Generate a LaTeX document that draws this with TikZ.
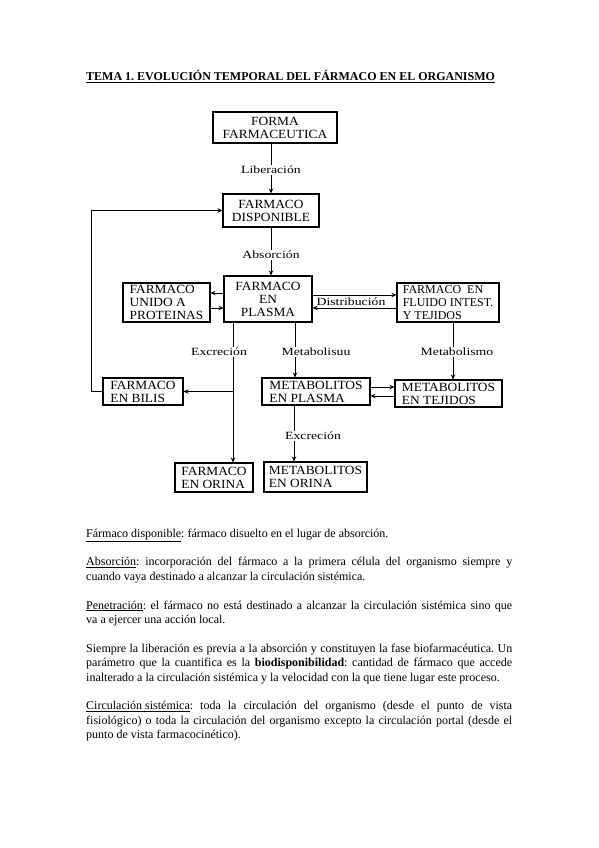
\documentclass[tikz,border=0pt]{standalone}
\usepackage{fontspec}
\setmainfont{Liberation Serif}
\newfontfamily\anchafont[FakeStretch=1.25]{Liberation Serif}
\newfontfamily\cajafont[FakeStretch=1.07]{Liberation Serif}
\usepackage{tikz}
\usetikzlibrary{arrows.meta, positioning}
\frenchspacing

\begin{document}
\begin{tikzpicture}[x=1pt, y=-1pt,
    caja/.style={draw, line width=1.1pt, inner sep=0pt, font=\cajafont\fontsize{12.5}{13}\selectfont},
    cajac/.style={caja, align=center},
    cajal/.style={caja, align=left},
    flecha/.style={line width=0.9pt, -{Stealth[length=5pt, width=4.5pt]}},
    etiq/.style={inner sep=1pt, font=\anchafont\fontsize{11}{12}\selectfont},
    etiqb/.style={etiq, fill=white}]
        \useasboundingbox (0,0) rectangle (599,848);

        \node[anchor=base west, inner sep=0pt, font=\bfseries\fontsize{12}{14}\selectfont] (titulo) at (86,81)
            {\underline{TEMA 1. EVOLUCIÓN TEMPORAL DEL FÁRMACO EN EL ORGANISMO}};

        % cajas
        \node[cajac, minimum width=124, minimum height=31] (forma) at (275,127.5) {FORMA\\FARMACEUTICA};
        \node[cajac, minimum width=96, minimum height=33] (disp) at (271,210.5) {FARMACO\\DISPONIBLE};
        \node[cajal, minimum width=87, minimum height=39] (prot) at (166.5,302.5) {FARMACO\\UNIDO A\\PROTEINAS};
        \node[cajac, minimum width=88, minimum height=46] (plasma) at (268,299) {FARMACO\\EN\\PLASMA};
        \node[cajal, minimum width=102, minimum height=39, font=\fontsize{12}{13}\selectfont] (fluido) at (448,302.5)
            {FARMACO\ \ EN\\FLUIDO INTEST.\\Y TEJIDOS};
        \node[cajal, minimum width=80, minimum height=27] (bilis) at (143,391.5) {FARMACO\\EN BILIS};
        \node[cajal, minimum width=108, minimum height=27] (metpl) at (316,391.5) {METABOLITOS\\EN PLASMA};
        \node[cajal, minimum width=107, minimum height=27] (mettej) at (448.5,393.5) {METABOLITOS\\EN TEJIDOS};
        \node[cajal, minimum width=78, minimum height=29] (orina) at (214,477.5) {FARMACO\\EN ORINA};
        \node[cajal, minimum width=103, minimum height=30] (metor) at (315.5,477) {METABOLITOS\\EN ORINA};

        % flechas
        \draw[flecha] (disp.north |- forma.south) -- (disp.north);
        \node[etiqb] (liber) at (271,170) {Liberación};
        \draw[flecha] (disp.south) -- (disp.south |- plasma.north);
        \node[etiqb] (absor) at (271,255) {Absorción};

        \draw[flecha] ([yshift=6pt]plasma.west) -- ([yshift=6pt]plasma.west -| prot.east);
        \draw[flecha] ([yshift=-9pt]plasma.west -| prot.east) -- ([yshift=-9pt]plasma.west);
        \draw[flecha] ([yshift=4pt]plasma.east) -- ([yshift=4pt]plasma.east -| fluido.west);
        \draw[flecha] ([yshift=-9pt]plasma.east -| fluido.west) -- ([yshift=-9pt]plasma.east);
        \node[etiq] (distrib) at (351,302) {Distribución};

        \coordinate (exc) at ([xshift=-35pt]plasma.south);
        \coordinate (bif) at (exc |- bilis.east);
        \draw[flecha] (exc) -- (exc |- orina.north);
        \draw[flecha] (bif) -- (bilis.east);
        \draw[flecha] (bilis.west) -- ++(-11,0) |- (disp.west);
        \node[etiqb] (excr1) at (219,352) {Excreción};

        \draw[flecha] ([xshift=27pt]plasma.south) -- ([xshift=27pt]plasma.south |- metpl.north);
        \node[etiqb] (metab1) at (316,352) {Metabolisuu};
        \draw[flecha] ([xshift=5pt]fluido.south) -- ([xshift=5pt]fluido.south |- mettej.north);
        \node[etiqb] (metab2) at (457,352) {Metabolismo};

        \draw[flecha] ([yshift=4.5pt]metpl.east) -- ([yshift=4.5pt]metpl.east -| mettej.west);
        \draw[flecha] ([yshift=-4.5pt]metpl.east -| mettej.west) -- ([yshift=-4.5pt]metpl.east);
        \draw[flecha] ([xshift=-22pt]metpl.south) -- ([xshift=-22pt]metpl.south |- metor.north);
        \node[etiqb] (excr2) at (313,436) {Excreción};

        % texto
        \node[anchor=base west, text width=426pt, align=justify, inner sep=0pt,
              font=\fontsize{12}{14.4}\selectfont] (texto) at (86,537)
            {\setlength{\parskip}{14.4pt}%
            \underline{Fármaco disponible}: fármaco disuelto en el lugar de absorción.\par
            \underline{Absorción}: incorporación del fármaco a la primera célula del organismo siempre y\linebreak
            cuando vaya destinado a alcanzar la circulación sistémica.\par
            \underline{Penetración}: el fármaco no está destinado a alcanzar la circulación sistémica sino que\linebreak
            va a ejercer una acción local.\par
            Siempre la liberación es previa a la absorción y constituyen la fase biofarmacéutica. Un\linebreak
            parámetro que la cuantifica es la \textbf{biodisponibilidad}: cantidad de fármaco que accede\linebreak
            inalterado a la circulación sistémica y la velocidad con la que tiene lugar este proceso.\par
            \underline{Circulación sistémica}: toda la circulación del organismo (desde el punto de vista\linebreak
            fisiológico) o toda la circulación del organismo excepto la circulación portal (desde el\linebreak
            punto de vista farmacocinético).};
\end{tikzpicture}
\end{document}
